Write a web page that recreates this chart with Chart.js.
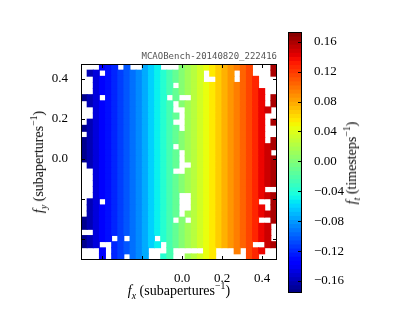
<!DOCTYPE html>
<html>
<head>
<meta charset="utf-8">
<script src="https://cdn.jsdelivr.net/npm/chart.js@4.4.0/dist/chart.umd.min.js"></script>
<style>
  html, body { margin: 0; padding: 0; background: #fff; }
  #wrap { position: relative; width: 407px; height: 326px; overflow: hidden; font-family: 'Liberation Serif', serif; color: #000; }
  #main { position: absolute; left: 0; top: 0; }
  #cbar { position: absolute; left: 280px; top: 0; }
  .lbl { position: absolute; font-size: 14px; white-space: nowrap; line-height: 1; transform: translate(-50%, -50%); }
  .lbl sub, .lbl sup { font-size: 70%; line-height: 0; }
  .rot { transform: translate(-50%, -50%) rotate(-90deg); }
  #stamp { position: absolute; right: 130px; top: 52px; font-family: 'DejaVu Sans Mono', monospace; font-size: 9px; line-height: 1; color: #555; }
</style>
</head>
<body>
<div id="wrap">
  <canvas id="main" width="285" height="326"></canvas>
  <canvas id="cbar" width="127" height="326"></canvas>
  <div id="stamp">MCAOBench-20140820_222416</div>
  <div class="lbl" style="left:179px; top:291px;"><i>f</i><sub><i>x</i></sub> (subapertures<sup>−1</sup>)</div>
  <div class="lbl rot" style="left:39px; top:162px;"><i>f</i><sub><i>y</i></sub> (subapertures<sup>−1</sup>)</div>
  <div class="lbl rot" style="left:352px; top:163px;"><i>f</i><sub><i>t</i></sub> (timesteps<sup>−1</sup>)</div>
</div>
<script>
// cell centres along f_x and f_y
const fx = [-0.4897, -0.4591, -0.4284, -0.3978, -0.3672, -0.3366, -0.3059, -0.2753,
            -0.2447, -0.2141, -0.1834, -0.1528, -0.1222, -0.0916, -0.0609, -0.0303,
             0.0003,  0.0309,  0.0616,  0.0922,  0.1228,  0.1534,  0.1841,  0.2147,
             0.2453,  0.2759,  0.3066,  0.3372,  0.3678,  0.3984,  0.4291,  0.4597];
const fy = [-0.4897, -0.4591, -0.4284, -0.3978, -0.3672, -0.3366, -0.3059, -0.2753,
            -0.2447, -0.2141, -0.1834, -0.1528, -0.1222, -0.0916, -0.0609, -0.0303,
             0.0003,  0.0309,  0.0616,  0.0922,  0.1228,  0.1534,  0.1841,  0.2147,
             0.2453,  0.2759,  0.3066,  0.3372,  0.3678,  0.3984,  0.4291,  0.4597];

// f_t read per column (left to right)
const ftCols = [-0.172, -0.160, -0.148, -0.138, -0.128, -0.120, -0.111, -0.103,
                -0.094, -0.085, -0.074, -0.061, -0.050, -0.038, -0.024, -0.012,
                 0.002,  0.014,  0.024,  0.035,  0.045,  0.055,  0.066,  0.076,
                 0.086,  0.095,  0.105,  0.116,  0.128,  0.140,  0.150,  0.160];

// empty cells ('#'), top row first
const emptyRows = [
  '###...#.##...###............###.',
  '#..#................#....#..###.',
  '##..................##...#...###',
  '##.............#.............###',
  '##............................##',
  '...#..........#.##............#.',
  '#..............#..............#.',
  '##.............##..............#',
  '##..............#.............##',
  '#..............##.............#.',
  '................#.............##',
  '#.............................##',
  '..............................#.',
  '...............#................',
  '................#..............#',
  '................#...............',
  '#...............##..............',
  '##.............##...............',
  '##..............................',
  '##..............................',
  '##............................##',
  '##..............##..............',
  '#..#............##...........##.',
  '#...............##............#.',
  '#...............#...............',
  '...............#.#...........##.',
  '...............................#',
  '##.............................#',
  '.....#.#....#..................#',
  '...##........#..............##..',
  '###.#......###.#####..###.#...##',
  '###.#..#...##..##.....#####..###'
];

const axTicks = [-0.4, -0.2, 0.0, 0.2, 0.4];
const axTickLabels = ['', '', '0.0', '0.2', '0.4'];
const cbTicks = [-0.16, -0.12, -0.08, -0.04, 0.00, 0.04, 0.08, 0.12, 0.16];
const cbTickLabels = ['−0.16', '−0.12', '−0.08', '−0.04', '0.00', '0.04', '0.08', '0.12', '0.16'];
const vMin = -0.176, vMax = 0.173;

// jet colormap
const jetR = [[0, 0], [0.35, 0], [0.66, 1], [0.89, 1], [1, 0.5]];
const jetG = [[0, 0], [0.125, 0], [0.375, 1], [0.64, 1], [0.91, 0], [1, 0]];
const jetB = [[0, 0.5], [0.11, 1], [0.34, 1], [0.65, 0], [1, 0]];
function seg(pts, t) {
  for (let i = 1; i < pts.length; i++) {
    if (t <= pts[i][0]) {
      const [x0, y0] = pts[i - 1], [x1, y1] = pts[i];
      return y0 + (y1 - y0) * (t - x0) / (x1 - x0);
    }
  }
  return pts[pts.length - 1][1];
}
function jet(v) {
  const t = Math.min(1, Math.max(0, (v - vMin) / (vMax - vMin)));
  const c = f => Math.round(255 * seg(f, t));
  return `rgb(${c(jetR)},${c(jetG)},${c(jetB)})`;
}

const tickFont = { family: 'Liberation Serif', size: 13 };

// frame + inward tick marks
const framePlugin = {
  id: 'frame',
  afterDatasetsDraw(chart, args, opts) {
    const { ctx, chartArea: a } = chart;
    const L = opts.len || 4;
    ctx.save();
    ctx.strokeStyle = '#000';
    ctx.lineWidth = 1;
    ctx.beginPath();
    (opts.axes || []).forEach(([id, sides]) => {
      const s = chart.scales[id];
      s.ticks.forEach(t => {
        const p = Math.round(s.getPixelForValue(t.value)) + 0.5;
        sides.forEach(side => {
          if (side === 'bottom') { ctx.moveTo(p, a.bottom); ctx.lineTo(p, a.bottom - L); }
          if (side === 'top') { ctx.moveTo(p, a.top); ctx.lineTo(p, a.top + L); }
          if (side === 'left') { ctx.moveTo(a.left, p); ctx.lineTo(a.left + L, p); }
          if (side === 'right') { ctx.moveTo(a.right, p); ctx.lineTo(a.right - L, p); }
        });
      });
    });
    ctx.stroke();
    ctx.strokeRect(Math.round(a.left) + 0.5, Math.round(a.top) + 0.5,
                   Math.round(a.right - a.left) - 1, Math.round(a.bottom - a.top) - 1);
    ctx.restore();
  }
};

// 1. main map
const half = 0.0153;
const cells = [];
emptyRows.forEach((row, r) => {
  const yc = fy[fy.length - 1 - r];
  for (let c = 0; c < fx.length; c++) {
    if (row[c] === '#') continue;
    cells.push({ x: fx[c], y: [yc - half, yc + half], v: ftCols[c] });
  }
});

new Chart(document.getElementById('main').getContext('2d'), {
  type: 'bar',
  data: {
    datasets: [{
      data: cells,
      backgroundColor: cells.map(p => jet(p.v)),
      borderWidth: 0,
      inflateAmount: 0.45,
      barPercentage: 1,
      categoryPercentage: 1
    }]
  },
  options: {
    responsive: false,
    animation: false,
    layout: { padding: { left: 0, right: 8, top: 64, bottom: 0 } },
    plugins: {
      legend: { display: false },
      tooltip: { enabled: false },
      frame: { len: 4, axes: [['x', ['bottom', 'top']], ['y', ['left', 'right']]] }
    },
    scales: {
      x: {
        type: 'linear', min: -0.505, max: 0.475, offset: false,
        grid: { display: false }, border: { display: false },
        ticks: { autoSkip: false, maxRotation: 0, padding: 3, color: '#000', font: tickFont,
                 callback: (v, i) => axTickLabels[i] },
        afterBuildTicks: s => { s.ticks = axTicks.map(v => ({ value: v })); },
        afterFit: s => { s.height = 66; }
      },
      y: {
        type: 'linear', min: -0.505, max: 0.475, beginAtZero: false,
        grid: { display: false }, border: { display: false },
        ticks: { autoSkip: false, padding: 5, color: '#000', font: tickFont,
                 callback: (v, i) => axTickLabels[i] },
        afterBuildTicks: s => { s.ticks = axTicks.map(v => ({ value: v })); },
        afterFit: s => { s.width = 81; }
      }
    }
  },
  plugins: [framePlugin]
});

// 2. colour bar
const nSteps = 64;
const stepSize = (vMax - vMin) / nSteps;
const cbBars = [];
for (let i = 0; i < nSteps; i++) {
  const lo = vMin + i * stepSize;
  cbBars.push({ x: '', y: [lo, lo + stepSize], v: lo + stepSize / 2 });
}

new Chart(document.getElementById('cbar').getContext('2d'), {
  type: 'bar',
  data: {
    labels: [''],
    datasets: [{
      data: cbBars,
      backgroundColor: cbBars.map(b => jet(b.v)),
      borderWidth: 0,
      inflateAmount: 0.45,
      barPercentage: 1,
      categoryPercentage: 1
    }]
  },
  options: {
    responsive: false,
    animation: false,
    layout: { padding: { left: 8, right: 0, top: 32, bottom: 33 } },
    plugins: {
      legend: { display: false },
      tooltip: { enabled: false },
      frame: { len: 4, axes: [['y', ['right']]] }
    },
    scales: {
      x: { display: false },
      y: {
        position: 'right', min: vMin, max: vMax, beginAtZero: false,
        grid: { display: false }, border: { display: false },
        ticks: { autoSkip: false, padding: 4, color: '#000', font: tickFont,
                 callback: (v, i) => cbTickLabels[i] },
        afterBuildTicks: s => { s.ticks = cbTicks.map(v => ({ value: v })); },
        afterFit: s => { s.width = 105; }
      }
    }
  },
  plugins: [framePlugin]
});
</script>
</body>
</html>
